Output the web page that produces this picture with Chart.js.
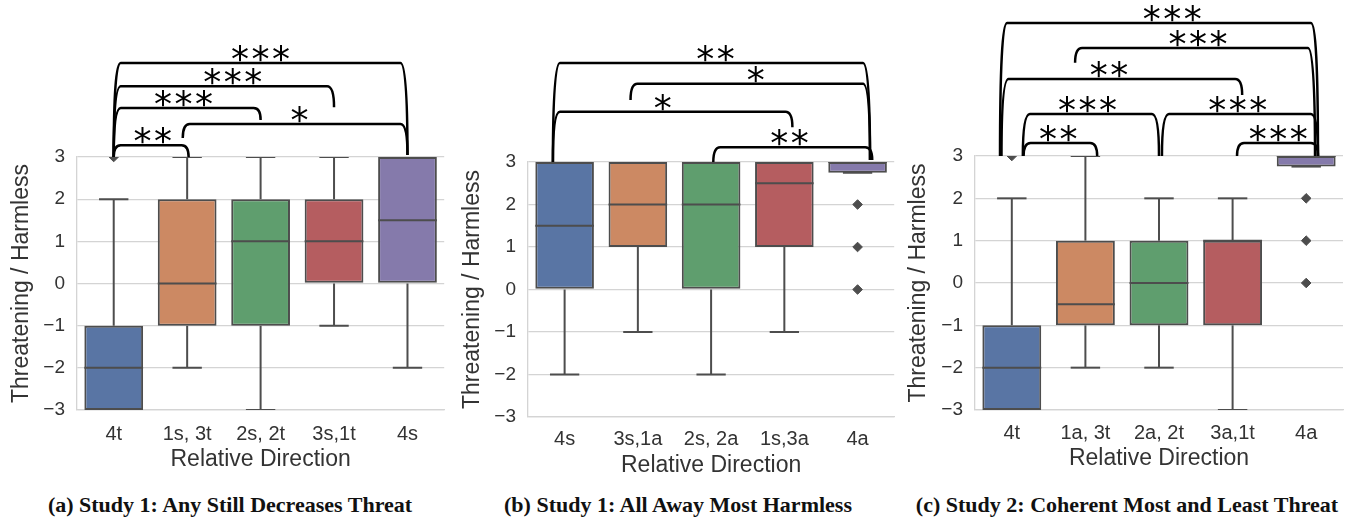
<!DOCTYPE html>
<html>
<head>
<meta charset="utf-8">
<script src="https://cdn.jsdelivr.net/npm/chart.js@4.4.1/dist/chart.umd.min.js"></script>
<style>
  body { margin: 0; background: #fff; width: 1350px; height: 518px; position: relative; overflow: hidden; }
  .panel { position: absolute; top: 0; width: 450px; height: 480px; }
  .cap { position: absolute; top: 492px; width: 450px; text-align: center;
         font: bold 22px "Liberation Serif", serif; color: #111; line-height: 26px; white-space: nowrap; }
</style>
</head>
<body>
<div class="panel" style="left:0"><canvas id="cA" width="450" height="480"></canvas></div>
<div class="panel" style="left:450px"><canvas id="cB" width="450" height="480"></canvas></div>
<div class="panel" style="left:900px"><canvas id="cC" width="450" height="480"></canvas></div>
<div class="cap" style="left:5px">(a) Study 1: Any Still Decreases Threat</div>
<div class="cap" style="left:453px">(b) Study 1: All Away Most Harmless</div>
<div class="cap" style="left:902px">(c) Study 2: Coherent Most and Least Threat</div>

<script>
// categories
const labelsA = ['4t', '1s, 3t', '2s, 2t', '3s,1t', '4s'];
const labelsB = ['4s', '3s,1a', '2s, 2a', '1s,3a', '4a'];
const labelsC = ['4t', '1a, 3t', '2a, 2t', '3a,1t', '4a'];

// box statistics (whisker low, q1, median, q3, whisker high)
const loA  = [-3, -2, -3, -1, -2];
const q1A  = [-3, -1, -1,  0,  0];
const medA = [-2,  0,  1,  1, 1.5];
const q3A  = [-1,  2,  2,  2,  3];
const hiA  = [ 2,  3,  3,  3,  3];
const outA = [['4t', 3]];

const loB  = [-2, -1, -2, -1, 2.75];
const q1B  = [ 0,  1,  0,  1, 2.75];
const medB = [1.5, 2,  2, 2.5, 3];
const q3B  = [ 3,  3,  3,  3,  3];
const hiB  = [ 3,  3,  3,  3,  3];
const outB = [['4a', 2], ['4a', 1], ['4a', 0]];

const loC  = [-3, -2, -2, -3, 2.75];
const q1C  = [-3, -1, -1, -1, 2.75];
const medC = [-2, -0.5, 0, 1, 3];
const q3C  = [-1,  1,  1,  1,  3];
const hiC  = [ 2,  3,  2,  2,  3];
const outC = [['4t', 3], ['4a', 2], ['4a', 1], ['4a', 0]];

// y tick labels, from -3 to 3
const yTickLabels = ['\u22123', '\u22122', '\u22121', '0', '1', '2', '3'];

// significance brackets: [from, to, level, end from, end to, stars at, stars]
const bracketsA = [
  [0, 1.02, 3.28, 3.0, 3.0, 0.53, 2],
  [0, 2, 4.16, 3.0, 3.88, 0.95, 3],
  [0, 3, 4.68, 3.0, 4.18, 1.62, 3],
  [0, 4, 5.23, 3.0, 3.05, 2.0, 3],
  [0.94, 4, 3.78, 3.45, 3.05, 2.53, 1]
];
const bracketsB = [
  [-0.16, 4.17, 5.33, 3.0, 3.05, 2.06, 2],
  [0.9, 4.17, 4.84, 4.46, 3.05, 2.61, 1],
  [-0.16, 3.11, 4.18, 3.0, 3.82, 1.34, 1],
  [2.03, 4.2, 3.35, 3.0, 3.05, 3.07, 2]
];
const bracketsC = [
  [-0.16, 4.16, 6.14, 3.0, 3.0, 2.18, 3],
  [0.86, 4.12, 5.55, 5.2, 3.0, 2.53, 3],
  [-0.14, 3.13, 4.82, 3.0, 4.44, 1.32, 2],
  [0.15, 2.0, 3.99, 3.0, 3.0, 1.03, 3],
  [2.04, 4.16, 3.99, 3.0, 3.0, 3.07, 3],
  [0.16, 1.16, 3.31, 3.0, 3.0, 0.63, 2],
  [3.06, 4.16, 3.31, 3.0, 3.0, 3.62, 3]
];

const boxColors = ['#5975a4', '#cc8963', '#5f9e6e', '#b55d60', '#857aab'];
const edge = '#4d4d4d';
const textColor = '#333';

function line(ctx, x1, y1, x2, y2) {
  ctx.beginPath();
  ctx.moveTo(x1, y1);
  ctx.lineTo(x2, y2);
  ctx.stroke();
}

// draws whiskers, medians and the bracket annotations with the chart's scales
function boxPlugin(lo, q1, med, q3, hi, brackets) {
  return {
    id: 'boxes',
    afterDatasetsDraw(chart) {
      const { ctx, chartArea: a, scales: { x, y } } = chart;
      const bars = chart.getDatasetMeta(0).data;
      ctx.save();
      ctx.beginPath();
      ctx.rect(a.left, a.top, a.width, a.height);
      ctx.clip();
      ctx.strokeStyle = edge;
      ctx.lineWidth = 2;
      med.forEach((m, i) => {
        const cx = x.getPixelForValue(i);
        const w = bars[i].width;
        line(ctx, cx, y.getPixelForValue(q3[i]), cx, y.getPixelForValue(hi[i]));
        line(ctx, cx, y.getPixelForValue(q1[i]), cx, y.getPixelForValue(lo[i]));
        line(ctx, cx - w / 4, y.getPixelForValue(hi[i]), cx + w / 4, y.getPixelForValue(hi[i]));
        line(ctx, cx - w / 4, y.getPixelForValue(lo[i]), cx + w / 4, y.getPixelForValue(lo[i]));
        line(ctx, cx - w / 2, y.getPixelForValue(m), cx + w / 2, y.getPixelForValue(m));
      });
      ctx.restore();
    },
    afterDraw(chart) {
      const { ctx, scales: { x, y } } = chart;
      ctx.save();
      ctx.strokeStyle = '#000';
      ctx.fillStyle = '#000';
      ctx.lineWidth = 2.5;
      ctx.lineJoin = 'round';
      ctx.lineCap = 'butt';
      ctx.font = '36px "DejaVu Sans"';
      ctx.textAlign = 'center';
      ctx.textBaseline = 'alphabetic';
      const m = ctx.measureText('*');
      brackets.forEach(b => {
        const [i1, i2, lv, e1, e2, sx, n] = b;
        const x1 = x.getPixelForValue(i1), x2 = x.getPixelForValue(i2);
        const yl = y.getPixelForValue(lv);
        const y1 = y.getPixelForValue(e1), y2 = y.getPixelForValue(e2);
        const r1 = Math.min(7, (y1 - yl) * 0.6), r2 = Math.min(7, (y2 - yl) * 0.6);
        ctx.beginPath();
        ctx.moveTo(x1, y1);
        ctx.quadraticCurveTo(x1, yl, x1 + r1, yl);
        ctx.lineTo(x2 - r2, yl);
        ctx.quadraticCurveTo(x2, yl, x2, y2);
        ctx.stroke();
        const cx = x.getPixelForValue(sx);
        for (let k = 0; k < n; k++) {
          const px = cx + (k - (n - 1) / 2) * 20.5;
          ctx.fillText('*', px, yl - 1 - m.actualBoundingBoxDescent);
        }
      });
      ctx.restore();
    }
  };
}

function makePanel(id, labels, lo, q1, med, q3, hi, outliers, brackets, box) {
  new Chart(document.getElementById(id), {
    type: 'bar',
    data: {
      labels: labels,
      datasets: [
        {
          data: labels.map((l, i) => [q1[i], q3[i]]),
          backgroundColor: boxColors,
          borderColor: edge,
          borderWidth: 2,
          borderSkipped: false,
          barPercentage: 0.8,
          categoryPercentage: 1
        },
        {
          type: 'scatter',
          data: outliers.map(o => ({ x: o[0], y: o[1] })),
          pointStyle: 'rectRot',
          pointRadius: 4.8,
          backgroundColor: edge,
          borderColor: edge,
          borderWidth: 1,
          clip: 0
        }
      ]
    },
    options: {
      responsive: false,
      animation: false,
      events: [],
      layout: { padding: { top: box.top, right: 450 - box.right, left: 0, bottom: 0 } },
      plugins: { legend: { display: false }, tooltip: { enabled: false } },
      scales: {
        x: {
          type: 'category',
          grid: { display: false, drawTicks: false },
          border: { display: true, color: '#d4d4d4', width: 1.3 },
          ticks: { color: textColor, font: { family: 'Liberation Sans', size: 20 }, padding: box.tickPad },
          title: {
            display: true, text: 'Relative Direction', color: textColor,
            font: { family: 'Liberation Sans', size: 23 },
            padding: { top: 0, bottom: box.titlePad }
          },
          afterFit: s => { s.height = 480 - box.bottom; }
        },
        y: {
          min: -3, max: 3,
          grid: { color: '#d4d4d4', lineWidth: 1.3, drawTicks: false },
          border: { display: true, color: '#d4d4d4', width: 1.3 },
          ticks: {
            stepSize: 1, color: textColor, padding: 12,
            font: { family: 'Liberation Sans', size: 19 },
            callback: (v, i) => yTickLabels[i]
          },
          title: {
            display: true, text: 'Threatening / Harmless', color: textColor,
            font: { family: 'Liberation Sans', size: 23 },
            padding: { top: box.yTitlePad, bottom: 0 }
          },
          afterFit: s => { s.width = box.left; }
        }
      }
    },
    plugins: [boxPlugin(lo, q1, med, q3, hi, brackets)]
  });
}

makePanel('cA', labelsA, loA, q1A, medA, q3A, hiA, outA, bracketsA,
  { left: 77, right: 445, top: 157, bottom: 410, tickPad: 12, titlePad: 7, yTitlePad: 8 });
makePanel('cB', labelsB, loB, q1B, medB, q3B, hiB, outB, bracketsB,
  { left: 78, right: 445, top: 162, bottom: 417, tickPad: 10, titlePad: 1, yTitlePad: 9 });
makePanel('cC', labelsC, loC, q1C, medC, q3C, hiC, outC, bracketsC,
  { left: 75, right: 443, top: 156, bottom: 410, tickPad: 11, titlePad: 8, yTitlePad: 5 });
</script>
</body>
</html>
